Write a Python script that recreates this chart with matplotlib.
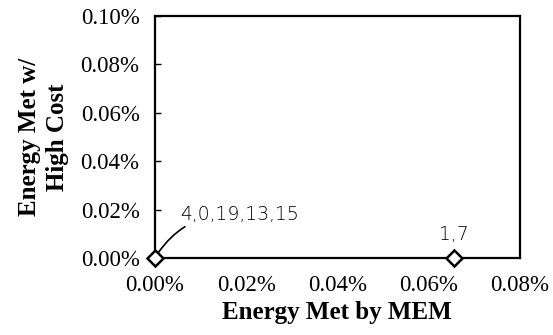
import matplotlib
matplotlib.use("Agg")
import matplotlib.pyplot as plt
import numpy as np
from matplotlib.ticker import FuncFormatter

# Energy met by MEM vs energy met with high cost (fractions, shown as percent)
mem_energy = [0.0, 0.000655]
high_cost_energy = [0.0, 0.0]
point_labels = ["4,0,19,13,15", "1,7"]

x_ticks = [0.0, 0.0002, 0.0004, 0.0006, 0.0008]
y_ticks = [0.0, 0.0002, 0.0004, 0.0006, 0.0008, 0.0010]

plt.rcParams["font.family"] = ["Liberation Serif", "DejaVu Serif"]

fig = plt.figure(figsize=(5.53, 3.35), dpi=100)
ax = fig.add_axes([0.280, 0.230, 0.660, 0.722])

ax.plot(mem_energy, high_cost_energy, linestyle="none", marker="D",
        markersize=8, markerfacecolor="white", markeredgecolor="black",
        markeredgewidth=1.8, clip_on=False, zorder=5)

ax.set_xlim(x_ticks[0], x_ticks[-1])
ax.set_ylim(y_ticks[0], y_ticks[-1])
ax.set_xticks(x_ticks)
ax.set_yticks(y_ticks)
pct = FuncFormatter(lambda v, _: f"{v * 100:.2f}%")
ax.xaxis.set_major_formatter(pct)
ax.yaxis.set_major_formatter(pct)

ax.tick_params(axis="x", length=0, labelsize=16.5, pad=12)
ax.tick_params(axis="y", direction="in", length=4, width=1, labelsize=16.5, pad=11)
for side in ax.spines.values():
    side.set_linewidth(1.6)

ax.set_xlabel("Energy Met by MEM", fontsize=18, fontweight="bold", labelpad=4)
ax.set_ylabel("Energy Met w/\nHigh Cost", fontsize=18, fontweight="bold",
              labelpad=8, linespacing=1.3)

# Handwritten-style notes naming the cases at each point
hand = dict(family=["DejaVu Sans"], fontsize=13.5, color="black", fontweight="light")
ax.annotate(point_labels[0], xy=(mem_energy[0], high_cost_energy[0]),
            xytext=(mem_energy[0] + 0.000055, 0.00018), ha="left", va="center",
            arrowprops=dict(arrowstyle="-", color="black", lw=1.2,
                            connectionstyle="arc3,rad=0.3",
                            shrinkA=0, shrinkB=5), **hand)
ax.text(mem_energy[1], high_cost_energy[1] + 0.0000970, point_labels[1],
        ha="center", va="center", **hand)

fig.savefig("out.png", dpi=100)
